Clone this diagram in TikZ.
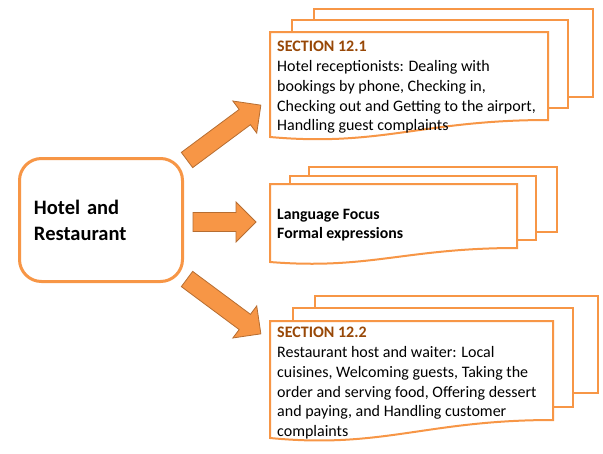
\documentclass[tikz,border=0pt]{standalone}
\usepackage{fontspec}
\setmainfont{Carlito}
\definecolor{accent}{HTML}{F79646}
\definecolor{arrowedge}{HTML}{B66D31}
\definecolor{sectionbrown}{HTML}{984807}
\tikzset{
  hubbox/.style={draw=accent, line width=3pt, rounded corners=22pt, fill=white,
    minimum width=163pt, minimum height=123pt, text width=134pt, align=left,
    inner xsep=14.5pt, font=\bfseries\fontsize{20.5}{26}\selectfont},
  docpage/.style={draw=accent, line width=2pt, fill=white},
  doctext/.style={anchor=north west, inner sep=0pt, align=left,
    font=\fontsize{16}{19.8}\selectfont},
  fatarrow/.style={fill=accent, draw=arrowedge, line width=0.8pt, line join=miter}
}
\newcommand\blockarrow[4]{%
  \begin{scope}[shift={(#1,#2)},rotate=#3]
    \filldraw[fatarrow] (0,-9.5) -- (#4-20,-9.5) -- (#4-20,-20) -- (#4,0)
      -- (#4-20,20) -- (#4-20,9.5) -- (0,9.5) -- cycle;
  \end{scope}}
\begin{document}
\begin{tikzpicture}[x=1pt,y=-1pt]
\useasboundingbox (0,0) rectangle (603,453);

% hub
\node[hubbox] (hub) at (101,220) {Hotel and\\Restaurant};

% arrows
\blockarrow{187}{160}{36.6}{92}
\blockarrow{193}{222}{0}{63}
\blockarrow{187}{279}{-36.6}{92}

% top document stack
\draw[docpage] (314,9) rectangle (593,97);
\draw[docpage] (292,20) rectangle (568,108);
\draw[docpage] (270,32) -- (548,32) -- (548,120) .. controls (423,120) and (381,147) .. (270,137) -- cycle;
\node[doctext] (sec1) at (277,41) {\textcolor{sectionbrown}{\textbf{SECTION 12.1}}\\
Hotel receptionists: Dealing with\\
bookings by phone,\ Checking in,\\
Checking out\ and Getting to the airport,\\
Handling guest complaints};

% middle document stack
\draw[docpage] (309,167) rectangle (557,232);
\draw[docpage] (290,176) rectangle (536,240);
\draw[docpage] (270,184) -- (517,184) -- (517,248) .. controls (406,248) and (369,270) .. (270,262) -- cycle;
\node[doctext, font=\bfseries\fontsize{15.8}{19.5}\selectfont] (focus) at (277,209) {Language Focus\\Formal expressions};

% bottom document stack
\draw[docpage] (315,296) rectangle (598,393);
\draw[docpage] (293,308) rectangle (573,407);
\draw[docpage] (270,321) -- (553,321) -- (553,420) .. controls (426,420) and (383,449) .. (270,438) -- cycle;
\node[doctext] (sec2) at (277,327) {\textcolor{sectionbrown}{\textbf{SECTION 12.2}}\\
Restaurant host and waiter: Local\\
cuisines, Welcoming guests, Taking the\\
order and serving food, Offering dessert\\
and paying, and Handling customer\\
complaints};
\end{tikzpicture}
\end{document}
